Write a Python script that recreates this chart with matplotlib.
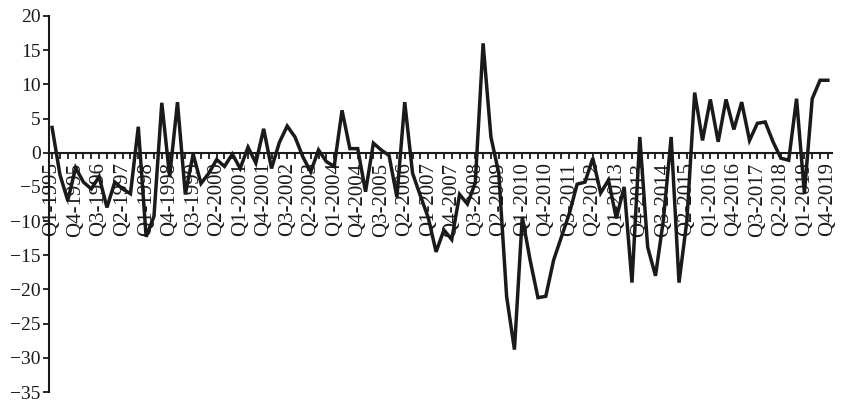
import matplotlib.pyplot as plt

plt.rcParams['font.family'] = ['Liberation Serif', 'DejaVu Serif']

# quarterly values, Q1-1995 .. Q4-2019
years = list(range(1995, 2020))
quarters = [f"Q{q}-{y}" for y in years for q in range(1, 5)]
values = [
    3.7, -3.2, -7.0, -2.2, -4.3, -5.3, -3.5, -8.0, -4.3, -5.3,
    -6.0, 3.8, -12.3, -9.3, 7.3, -3.5, 7.4, -6.1, -0.2, -4.5,
    -3.0, -1.0, -2.0, -0.2, -2.3, 0.8, -1.5, 3.5, -2.3, 1.5,
    3.9, 2.3, -0.6, -2.8, 0.4, -1.3, -2.0, 6.2, 0.6, 0.6,
    -5.7, 1.4, 0.4, -0.4, -6.5, 7.4, -3.0, -6.3, -9.5, -14.5,
    -11.3, -12.7, -6.1, -7.5, -4.4, 16.0, 2.3, -3.0, -21.0, -28.8,
    -9.4, -15.7, -21.2, -21.0, -15.7, -12.3, -8.9, -4.6, -4.3, -0.8,
    -5.9, -4.0, -9.6, -5.0, -19.0, 2.3, -13.8, -18.0, -9.9, 2.3,
    -19.0, -10.0, 8.8, 1.8, 7.8, 1.6, 7.8, 3.4, 7.4, 1.8,
    4.3, 4.5, 1.6, -0.8, -1.1, 7.9, -5.9, 7.9, 10.6, 10.6,
]
label_step = 3

fig = plt.figure(figsize=(8.5, 4.11), dpi=100)
ax = fig.add_axes([0.0576, 0.0462, 0.921, 0.9149])

# spines first: moving a spine resets the ticks
ax.spines['top'].set_visible(False)
ax.spines['right'].set_visible(False)
ax.spines['bottom'].set_position(('data', 0))
for side in ['bottom', 'left']:
    ax.spines[side].set_linewidth(1.5)
    ax.spines[side].set_color("#1a1a1a")

x = list(range(len(values)))
ax.plot(x, values, color="#1a1a1a", linewidth=2.5, solid_joinstyle="miter")

ax.set_xlim(-0.4, 99.5)
ax.set_ylim(-35, 20)
ax.set_yticks(range(-35, 21, 5))
ax.set_yticklabels([str(v).replace("-", "\u2212") for v in range(-35, 21, 5)], fontsize=14)

ax.set_xticks(x, minor=True)
ax.set_xticks(x[::label_step])
ax.set_xticklabels(quarters[::label_step], rotation=90, fontsize=15,
                   va='top', ha='center')

ax.tick_params(axis='x', which='both', direction='out', length=4, width=1.3, pad=3, colors="#1a1a1a")
ax.tick_params(axis='y', direction='out', length=4, width=1.3, pad=2, colors="#1a1a1a")

fig.savefig("out.png", dpi=100)
